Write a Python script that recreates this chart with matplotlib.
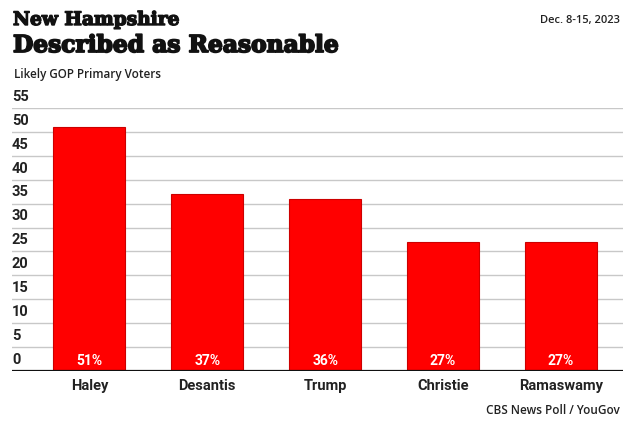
import matplotlib
matplotlib.use("Agg")
import matplotlib.pyplot as plt
import matplotlib.transforms as mtransforms
import matplotlib.patheffects as pe

categories = ["Haley", "Desantis", "Trump", "Christie", "Ramaswamy"]
values = [51, 37, 36, 27, 27]
yticks = [0, 5, 10, 15, 20, 25, 30, 35, 40, 45, 50, 55]

fig = plt.figure(figsize=(6.34, 4.23), dpi=100)
ax = fig.add_axes([12/634, 52/423, 611/634, 263/423])

x = list(range(len(categories)))
ax.bar(x, values, width=0.61, color="#ff0000", edgecolor="#cc0000", linewidth=0.8, zorder=3)

ax.set_xlim(-0.657, 4.526)
ax.set_ylim(0, 55)
for s in ax.spines.values():
    s.set_visible(False)
ax.set_yticks([])
ax.set_xticks(x)
ax.set_xticklabels(categories, fontfamily="Roboto", fontweight="bold", fontsize=10.5, color="#222222")
ax.tick_params(axis="x", length=0, pad=6)

for t in yticks:
    if t == 0:
        ax.axhline(0, color="#111111", linewidth=1.6, zorder=4)
    else:
        ax.axhline(t, color="#c8c8c8", linewidth=1.0, zorder=1)
    trans = mtransforms.offset_copy(ax.get_yaxis_transform(), fig=fig, x=0, y=3, units="points")
    ax.text(0, t, str(t), transform=trans, ha="left", va="bottom",
            fontfamily="Roboto", fontweight="bold", fontsize=10.5, color="#222222")

for xi, v in zip(x, values):
    trans = mtransforms.offset_copy(ax.transData, fig=fig, x=0, y=2, units="points")
    ax.text(xi, 0, f"{v}%", transform=trans, ha="center", va="bottom",
            fontfamily="Roboto", fontweight="bold", fontsize=10, color="white", zorder=5)

heavy = [pe.withStroke(linewidth=1.0, foreground="#111111")]
fig.text(13/634, 1 - 25/423, "New Hampshire", fontfamily="DejaVu Serif", fontweight="bold",
         fontsize=13.4, color="#111111", path_effects=heavy)
fig.text(13/634, 1 - 52/423, "Described as Reasonable", fontfamily="DejaVu Serif", fontweight="bold",
         fontsize=16.8, color="#111111", path_effects=[pe.withStroke(linewidth=1.3, foreground="#111111")])
fig.text(14/634, 1 - 78/423, "Likely GOP Primary Voters", fontfamily="Open Sans", fontweight="semibold",
         fontsize=8.4, color="#222222")
fig.text(620/634, 1 - 23/423, "Dec. 8-15, 2023", fontfamily="Open Sans", fontweight="semibold",
         fontsize=8, color="#222222", ha="right")
fig.text(620/634, 1 - 414/423, "CBS News Poll / YouGov", fontfamily="Open Sans", fontweight="semibold",
         fontsize=8.5, color="#222222", ha="right")

fig.savefig("out.png", dpi=100, facecolor="white")
